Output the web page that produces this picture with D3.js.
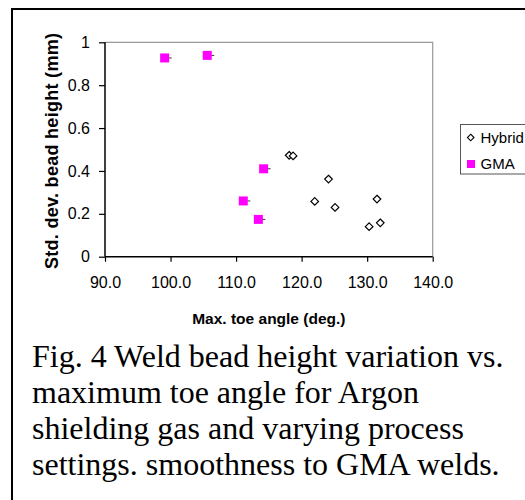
<!DOCTYPE html>
<html lang="en">
<head>
    <meta charset="UTF-8">
    <title>Weld bead height variation vs. toe angle</title>
    <script src="https://d3js.org/d3.v7.min.js"></script>
    <style>
        body { margin: 0; background: white; }
        text { font-family: "Liberation Sans", Arial, sans-serif; }
    </style>
</head>
<body>
    <svg id="chart" width="525" height="500"></svg>

    <script>
        // Data
        const hybridAngle = [118.1, 118.7, 124.1, 122.0, 125.1, 131.5, 130.3, 132.0];
        const hybridStd   = [0.473, 0.470, 0.362, 0.258, 0.230, 0.269, 0.140, 0.158];
        const gmaAngle = [99.1, 105.6, 114.2, 111.1, 113.4];
        const gmaStd   = [0.927, 0.939, 0.410, 0.260, 0.174];
        const xTicks = [90, 100, 110, 120, 130, 140];
        const yTicks = [0, 0.2, 0.4, 0.6, 0.8, 1];
        const seriesNames = ["Hybrid", "GMA"];
        const captionLines = [
            "Fig. 4 Weld bead height variation vs.",
            "maximum toe angle for Argon",
            "shielding gas and varying process",
            "settings. smoothness to GMA welds."
        ];

        const width = 525, height = 500;
        const plot = { left: 105, top: 42.3, right: 432.7, bottom: 256.7 };
        const svg = d3.select("#chart");

        svg.append("rect").attr("width", width).attr("height", height).attr("fill", "white");

        // outer frame (runs off the right and bottom edges)
        svg.append("rect")
            .attr("x", 12).attr("y", 9)
            .attr("width", 700).attr("height", 700)
            .attr("fill", "none").attr("stroke", "#000").attr("stroke-width", 2);

        const x = d3.scaleLinear().domain([90, 140]).range([plot.left, plot.right]);
        const y = d3.scaleLinear().domain([0, 1]).range([plot.bottom, plot.top]);

        // grey plot frame on top and right
        svg.append("path")
            .attr("d", `M${plot.left},${plot.top}H${plot.right}V${plot.bottom}`)
            .attr("fill", "none").attr("stroke", "#999").attr("stroke-width", 1.2);

        // axes
        const xAxis = svg.append("g")
            .attr("transform", `translate(0,${plot.bottom})`)
            .call(d3.axisBottom(x).tickValues(xTicks).tickFormat(d3.format(".1f"))
                .tickSize(5).tickPadding(15));
        const yAxis = svg.append("g")
            .attr("transform", `translate(${plot.left},0)`)
            .call(d3.axisLeft(y).tickValues(yTicks).tickFormat(d => d3.format("")(d))
                .tickSize(6).tickPadding(9));

        [xAxis, yAxis].forEach(g => {
            g.select(".domain").attr("stroke", "#000").attr("stroke-width", 1.5);
            g.selectAll(".tick line").attr("stroke", "#000").attr("stroke-width", 1.2);
            g.selectAll(".tick text")
                .attr("fill", "#000")
                .style("font-family", "'Liberation Sans', Arial, sans-serif")
                .style("font-size", "16px");
        });
        xAxis.select(".domain").attr("d", `M${plot.left},0H${plot.right}`);
        yAxis.select(".domain").attr("d", `M0,${plot.bottom}V${plot.top}`);

        // axis titles
        svg.append("text")
            .attr("x", (plot.left + plot.right) / 2).attr("y", 324)
            .attr("text-anchor", "middle")
            .style("font-size", "15.5px").style("font-weight", "bold")
            .text("Max. toe angle (deg.)");

        svg.append("text")
            .attr("transform", "translate(58,151) rotate(-90)")
            .attr("text-anchor", "middle")
            .attr("textLength", 236)
            .style("font-size", "18px").style("font-weight", "bold")
            .text("Std. dev. bead height (mm)");

        // GMA squares with their small error ticks
        const gma = gmaAngle.map((a, i) => ({ a, s: gmaStd[i] }));
        svg.append("g").selectAll("line").data(gma).join("line")
            .attr("x1", d => x(d.a) + 4).attr("x2", d => x(d.a) + 7)
            .attr("y1", d => y(d.s)).attr("y2", d => y(d.s))
            .attr("stroke", "#333").attr("stroke-width", 1);
        svg.append("g").selectAll("rect").data(gma).join("rect")
            .attr("x", d => x(d.a) - 4.5).attr("y", d => y(d.s) - 4.5)
            .attr("width", 9).attr("height", 9)
            .attr("fill", "#ff00ff");

        // Hybrid diamonds
        const diamond = "M0,-3.8L3.8,0L0,3.8L-3.8,0Z";
        const hybrid = hybridAngle.map((a, i) => ({ a, s: hybridStd[i] }));
        svg.append("g").selectAll("path").data(hybrid).join("path")
            .attr("d", diamond)
            .attr("transform", d => `translate(${x(d.a)},${y(d.s)})`)
            .attr("fill", "white").attr("stroke", "#000").attr("stroke-width", 1.2);

        // legend (cut off on the right like the original)
        const legend = svg.append("g");
        legend.append("rect")
            .attr("x", 460.5).attr("y", 124.5).attr("width", 100).attr("height", 49.5)
            .attr("fill", "white").attr("stroke", "#555").attr("stroke-width", 1);
        seriesNames.forEach((name, i) => {
            const cy = 137.5 + i * 26.5;
            if (i === 0) {
                legend.append("path").attr("d", "M0,-3.3L3.3,0L0,3.3L-3.3,0Z")
                    .attr("transform", `translate(470.7,${cy})`)
                    .attr("fill", "white").attr("stroke", "#000").attr("stroke-width", 1.1);
            } else {
                legend.append("rect").attr("x", 467).attr("y", cy - 4)
                    .attr("width", 8).attr("height", 8).attr("fill", "#ff00ff");
            }
            legend.append("text")
                .attr("x", 480.5).attr("y", cy).attr("dy", "0.36em")
                .style("font-size", "15px")
                .text(name);
        });

        // caption
        svg.append("g").selectAll("text").data(captionLines).join("text")
            .attr("x", 32).attr("y", (d, i) => 367 + i * 36)
            .style("font-family", "'Liberation Serif', 'Times New Roman', serif")
            .style("font-size", "32px")
            .attr("fill", "#000")
            .text(d => d);
    </script>
</body>
</html>
